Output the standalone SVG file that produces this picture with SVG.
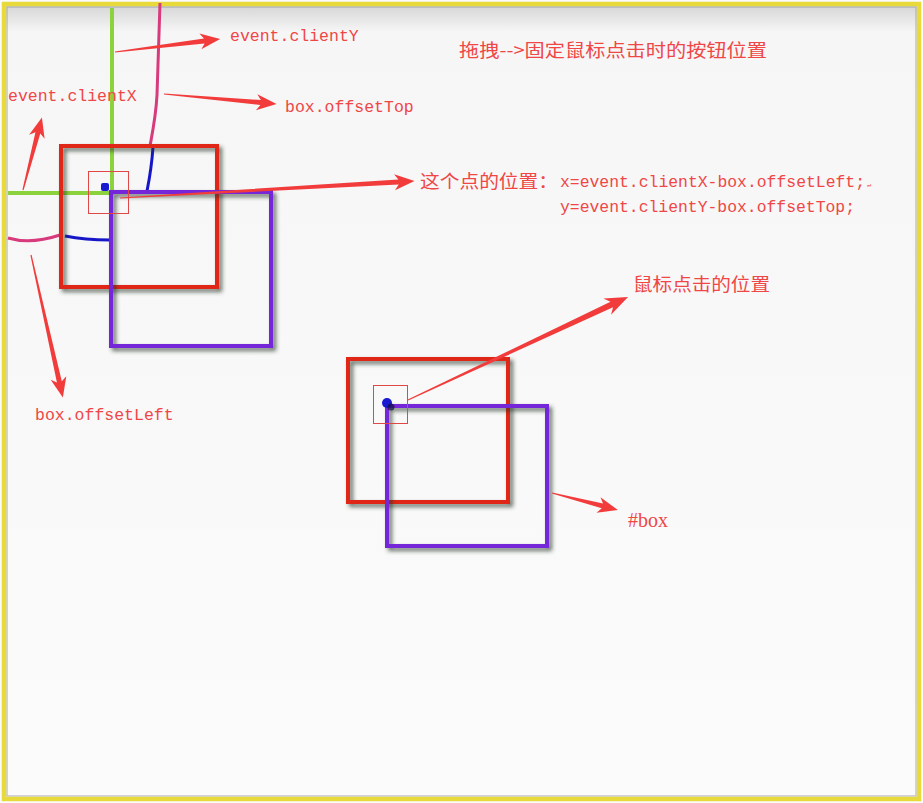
<svg xmlns="http://www.w3.org/2000/svg" width="923" height="803" viewBox="0 0 923 803">
<defs>
<linearGradient id="bg" x1="0" y1="0" x2="0" y2="1">
<stop offset="0" stop-color="#d4d4d4"/>
<stop offset="0.035" stop-color="#f6f6f6"/>
<stop offset="1" stop-color="#fbfbfb"/>
</linearGradient>
<filter id="sh" x="-10%" y="-10%" width="130%" height="130%">
<feGaussianBlur in="SourceGraphic" stdDeviation="0.6" result="b"/>
<feDropShadow in="b" dx="3" dy="3" stdDeviation="2.2" flood-color="#203020" flood-opacity="0.7"/>
</filter>
<filter id="soft"><feGaussianBlur stdDeviation="0.7"/></filter>
</defs>
<style>
.mono{font-family:"Liberation Mono","DejaVu Sans Mono",monospace;font-size:16.5px;fill:#f04646}
.cjk{font-family:"Noto Sans CJK SC","Noto Sans",sans-serif;font-size:18px;fill:#f04646}
.ser{font-family:"Liberation Serif",serif;font-size:20px;fill:#f04646}
.red{fill:none;stroke:#e02818;stroke-width:4}
.pur{fill:none;stroke:#7428d8;stroke-width:4}
.sel{fill:none;stroke:#e04848;stroke-width:1}
.arr{fill:#f23c3c}
</style>
<rect x="0" y="0" width="923" height="803" fill="#fbfbfb"/>
<rect x="4" y="4" width="915" height="795" fill="url(#bg)"/>
<rect x="7" y="7" width="909" height="789" fill="none" stroke="#9a9aaa" stroke-width="1.2" opacity="0.7"/>
<rect x="4" y="4" width="915" height="795" fill="none" stroke="#e8da3a" stroke-width="4.5"/>

<g id="upper-guides" filter="url(#soft)">
<path d="M112,8 L112,193 L8,193" fill="none" stroke="#8cd23c" stroke-width="4"/>
<path d="M160,3 C159,40 158,70 157,95 C156,115 153,130 150,146" fill="none" stroke="#d83a7c" stroke-width="3"/>
<path d="M153,147 C152,162 150,176 147,191" fill="none" stroke="#1818c8" stroke-width="3"/>
<path d="M8,238 C25,243 45,240 60,235" fill="none" stroke="#d83a7c" stroke-width="3"/>
<path d="M65,236 C80,239 95,240 110,240" fill="none" stroke="#1818c8" stroke-width="3"/>
</g>

<g id="box-upper-origin" filter="url(#sh)"><rect class="red" x="61" y="146" width="156" height="141"/></g>
<g id="box-upper-moved" filter="url(#sh)"><rect class="pur" x="111" y="192" width="160" height="154"/></g>
<g id="point-upper">
<rect x="101" y="183" width="8" height="8" rx="2" fill="#1a1ad0"/>
<rect class="sel" x="88.5" y="171.5" width="40" height="42"/>
</g>

<g id="box-lower-origin" filter="url(#sh)"><rect class="red" x="348" y="359" width="160" height="143"/></g>
<g id="box-lower-moved" filter="url(#sh)"><rect class="pur" x="387" y="406" width="160" height="140"/></g>
<g id="point-lower">
<circle cx="387" cy="403" r="5" fill="#1a1ad0"/>
<circle cx="391" cy="407" r="3.5" fill="#101040" opacity="0.7"/>
<rect class="sel" x="373.5" y="385.5" width="34" height="38"/>
</g>

<g id="connectors">
<polygon class="arr" transform="translate(115,52) rotate(-7.06)" points="0,-0.6 90,-2.5 86,-8 106,0 86,8 90,2.5 0,0.6"/>
<polygon class="arr" transform="translate(164,94) rotate(5.06)" points="0,-0.6 97,-2.5 93,-8 113,0 93,8 97,2.5 0,0.6"/>
<polygon class="arr" transform="translate(23,190) rotate(-75.4)" points="0,-0.6 59,-2.5 55,-8 75,0 55,8 59,2.5 0,0.6"/>
<polygon class="arr" transform="translate(31,255) rotate(77.4)" points="0,-0.6 130,-2.5 126,-8 146,0 126,8 130,2.5 0,0.6"/>
<polygon class="arr" transform="translate(120,198) rotate(-3.3)" points="0,-0.6 279,-2.5 275,-8 295,0 275,8 279,2.5 0,0.6"/>
<polygon class="arr" transform="translate(408,400) rotate(-25.1)" points="0,-0.6 225,-3 220,-9 243,0 220,9 225,3 0,0.6"/>
<polygon class="arr" transform="translate(552,493) rotate(14.4)" points="0,-0.6 52,-2.5 48,-8 68,0 48,8 52,2.5 0,0.6"/>
</g>

<g id="label-title"><text class="cjk" x="459" y="57" textLength="308" lengthAdjust="spacingAndGlyphs">拖拽--&gt;固定鼠标点击时的按钮位置</text></g>
<g id="label-clientY"><text class="mono" x="230" y="41">event.clientY</text></g>
<g id="label-clientX"><text class="mono" x="8" y="101">event.clientX</text></g>
<g id="label-offsetTop"><text class="mono" x="285" y="112">box.offsetTop</text></g>
<g id="label-offsetLeft"><text class="mono" x="35" y="420">box.offsetLeft</text></g>
<g id="label-formula">
<text class="cjk" x="420" y="188" textLength="138" lengthAdjust="spacingAndGlyphs">这个点的位置：</text>
<text class="mono" x="560" y="187" textLength="305" lengthAdjust="spacingAndGlyphs">x=event.clientX-box.offsetLeft;</text>
<text class="mono" x="867" y="187" style="font-size:7px">↵</text>
<text class="mono" x="560" y="212" textLength="295" lengthAdjust="spacingAndGlyphs">y=event.clientY-box.offsetTop;</text>
</g>
<g id="label-click"><text class="cjk" x="633" y="291" textLength="137" lengthAdjust="spacingAndGlyphs">鼠标点击的位置</text></g>
<g id="label-box"><text class="ser" x="628" y="527">#box</text></g>
</svg>
